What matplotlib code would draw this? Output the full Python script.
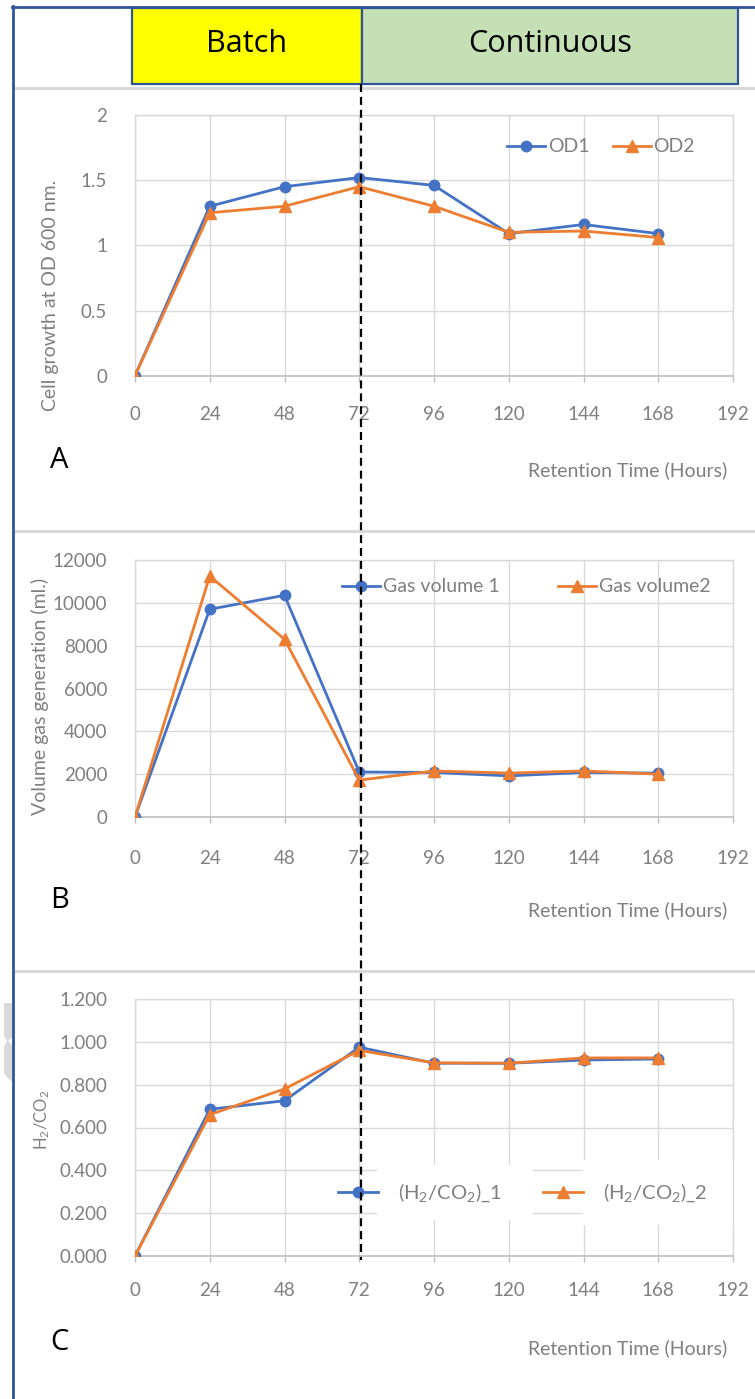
import matplotlib
matplotlib.use("Agg")
import matplotlib.pyplot as plt
from matplotlib.lines import Line2D
from matplotlib.patches import Rectangle, Polygon
from matplotlib.transforms import Affine2D

# ---- data -------------------------------------------------------------
hours = [0, 24, 48, 72, 96, 120, 144, 168]

od1 = [0.0, 1.30, 1.45, 1.52, 1.46, 1.09, 1.16, 1.09]
od2 = [0.0, 1.25, 1.30, 1.45, 1.30, 1.10, 1.11, 1.06]

gas1 = [0, 9700, 10350, 2100, 2080, 1920, 2080, 2050]
gas2 = [0, 11250, 8300, 1720, 2150, 2050, 2150, 2000]

ratio1 = [0.0, 0.685, 0.725, 0.975, 0.900, 0.900, 0.915, 0.920]
ratio2 = [0.0, 0.660, 0.780, 0.960, 0.902, 0.900, 0.925, 0.925]

x_ticks = [0, 24, 48, 72, 96, 120, 144, 168, 192]
phase_labels = ["Batch", "Continuous"]
x_title = "Retention Time (Hours)"

# ---- figure setup -----------------------------------------------------
plt.rcParams["mathtext.fontset"] = "custom"
plt.rcParams["mathtext.rm"] = "Lato"
plt.rcParams["mathtext.it"] = "Lato:italic"
plt.rcParams["mathtext.bf"] = "Lato:bold"
plt.rcParams["mathtext.default"] = "regular"

W, H = 755, 1399
DPI = 100
fig = plt.figure(figsize=(W / DPI, H / DPI), dpi=DPI)
fig.patch.set_facecolor("white")

# transform from top-left pixel coordinates to figure coordinates
px = Affine2D().scale(1.0 / W, -1.0 / H).translate(0, 1) + fig.transFigure

BLUE = "#4472c4"
ORANGE = "#ed7d31"
GRID = "#d9d9d9"
TXT = "#7f7f7f"
FRAME = "#2f5597"
NARROW = ["Lato", "DejaVu Sans"]
UI = ["Open Sans", "DejaVu Sans"]


def add_axes_px(left, top, right, bottom):
    return fig.add_axes([left / W, 1 - bottom / H, (right - left) / W, (bottom - top) / H])


def style_axes(ax, ylim, yticks, yfmt, xpad):
    ax.set_xlim(0, 192)
    ax.set_ylim(*ylim)
    ax.set_xticks(x_ticks)
    ax.set_yticks(yticks)
    ax.set_yticklabels([yfmt(v) for v in yticks])
    ax.set_axisbelow(True)
    ax.grid(True, color=GRID, lw=1.0)
    for side in ("left", "top", "right"):
        ax.spines[side].set_color(GRID)
        ax.spines[side].set_linewidth(1.0)
    ax.spines["bottom"].set_color("#bfbfbf")
    ax.spines["bottom"].set_linewidth(1.2)
    ax.tick_params(axis="x", direction="out", length=4.5, width=1.0, color="#bfbfbf",
                   pad=xpad, labelsize=13.5, labelcolor=TXT)
    ax.tick_params(axis="y", length=0, pad=20, labelsize=13.5, labelcolor=TXT)
    for lab in ax.get_xticklabels() + ax.get_yticklabels():
        lab.set_family(NARROW)


def draw_series(ax, y1, y2, lab1, lab2):
    ax.plot(hours, y1, color=BLUE, lw=2.0, marker="o", ms=7.5, label=lab1, zorder=3)
    ax.plot(hours, y2, color=ORANGE, lw=2.0, marker="^", ms=8, label=lab2, zorder=3)


# ---- panel A: cell growth ---------------------------------------------
axA = add_axes_px(135, 115, 733, 375.7)
draw_series(axA, od1, od2, "OD1", "OD2")
style_axes(axA, (0, 2), [0, 0.5, 1, 1.5, 2], lambda v: f"{v:g}", xpad=17)
legA = axA.legend(loc="center left", bbox_to_anchor=(507, 147), bbox_transform=px,
                  ncol=2, frameon=False, borderpad=0, borderaxespad=0,
                  handlelength=1.95, handletextpad=0.15, columnspacing=1.2,
                  prop={"family": NARROW, "size": 14})
for t in legA.get_texts():
    t.set_color(TXT)

# ---- panel B: gas volume ----------------------------------------------
axB = add_axes_px(135, 560, 733, 817)
draw_series(axB, gas1, gas2, "Gas volume 1", "Gas volume2")
style_axes(axB, (0, 12000), list(range(0, 12001, 2000)), lambda v: f"{v:d}", xpad=19)
legB = axB.legend(loc="center left", bbox_to_anchor=(342, 587), bbox_transform=px,
                  ncol=2, frameon=False, borderpad=0, borderaxespad=0,
                  handlelength=1.95, handletextpad=0.15, columnspacing=3.0,
                  prop={"family": NARROW, "size": 14})
for t in legB.get_texts():
    t.set_color(TXT)

# ---- panel C: H2/CO2 ratio --------------------------------------------
axC = add_axes_px(135, 999, 733, 1256)
draw_series(axC, ratio1, ratio2, r"(H$_2$/CO$_2$)_1", r"(H$_2$/CO$_2$)_2")
style_axes(axC, (0, 1.2), [0, 0.2, 0.4, 0.6, 0.8, 1.0, 1.2], lambda v: f"{v:.3f}", xpad=14)
# white label boxes behind the legend entries
for (x0, y0, x1, y1) in [(377, 1165, 533, 1220), (583, 1160, 755, 1225)]:
    axC.add_patch(Rectangle((x0, y0), x1 - x0, y1 - y0, transform=px, facecolor="white",
                            edgecolor="none", clip_on=False, zorder=1))
legC = axC.legend(loc="center left", bbox_to_anchor=(338, 1193), bbox_transform=px,
                  ncol=2, frameon=False, borderpad=0, borderaxespad=0,
                  handlelength=2.0, handletextpad=1.0, columnspacing=2.0,
                  prop={"family": NARROW, "size": 14.5})
for t in legC.get_texts():
    t.set_color(TXT)

# ---- axis titles, panel letters ---------------------------------------
fig.text(51, 295, "Cell growth at OD 600 nm.", transform=px, rotation=90, ha="center",
         va="center", fontsize=14, color=TXT, family=NARROW)
fig.text(40, 696, "Volume gas generation (ml.)", transform=px, rotation=90, ha="center",
         va="center", fontsize=14, color=TXT, family=NARROW)
fig.text(42, 1120, r"H$_2$/CO$_2$", transform=px, rotation=90, ha="center",
         va="center", fontsize=12, color=TXT, family=NARROW)

for ytxt, letter, yletter in [(470, "A", 460), (910, "B", 900), (1348, "C", 1343)]:
    fig.text(727, ytxt, x_title, transform=px, ha="right", va="center", fontsize=14,
             color=TXT, family=NARROW)
    fig.text(50, yletter, letter, transform=px, ha="left", va="center", fontsize=21,
             color="black", family=UI)

# ---- panel separators and outer frame -----------------------------------
for ysep in (87.5, 531, 971):
    fig.add_artist(Line2D([13, 755], [ysep, ysep], transform=px, color="#d9d9d9", lw=2.2))
fig.add_artist(Line2D([12.5, 12.5], [6, 1399], transform=px, color=FRAME, lw=2.0))
fig.add_artist(Line2D([12, 755], [7, 7], transform=px, color=FRAME, lw=2.0))

# light grey fragment at the left margin
fig.add_artist(Polygon([(4, 1003), (12, 1003), (12, 1038), (8, 1041), (12, 1045),
                        (12, 1082), (6, 1076), (4, 1072), (4, 1046), (7, 1041), (4, 1036)],
                       closed=True, transform=px, facecolor="#d9d9d9", edgecolor="none"))

# ---- phase header -------------------------------------------------------
header = [(132, 362, "#ffff00"), (362, 738, "#c5e0b4")]
for (x0, x1, col), lab in zip(header, phase_labels):
    fig.add_artist(Rectangle((x0, 8), x1 - x0, 76, transform=px, facecolor=col,
                             edgecolor=FRAME, lw=1.6))
    fig.text((x0 + x1) / 2, 44, lab, transform=px, ha="center", va="center",
             fontsize=22, color="black", family=UI)

# batch / continuous boundary
fig.add_artist(Line2D([361, 361], [84, 1260], transform=px, color="black", lw=1.6,
                      linestyle=(0, (3.6, 2.2)), zorder=10))

fig.savefig("out.png", dpi=DPI)
